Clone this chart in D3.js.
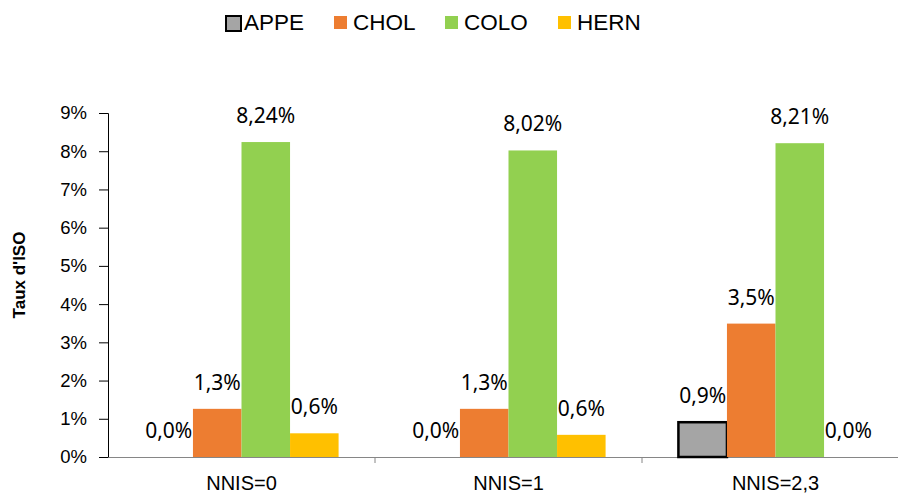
<!DOCTYPE html>
<html>
<head>
<meta charset="utf-8">
<script src="https://cdn.jsdelivr.net/npm/d3@7"></script>
<style>
  body { margin: 0; background: #fff; }
  svg { display: block; font-family: "Liberation Sans", Arial, sans-serif; }
</style>
</head>
<body>
<div id="chart"></div>
<script>
// data (values in %)
var categories = ["NNIS=0", "NNIS=1", "NNIS=2,3"];
var series = ["APPE", "CHOL", "COLO", "HERN"];
var appe = [0.0, 0.0, 0.91];
var chol = [1.26, 1.26, 3.49];
var colo = [8.24, 8.02, 8.21];
var hern = [0.62, 0.58, 0.0];
var labels = [
  ["0,0%", "0,0%", "0,9%"],
  ["1,3%", "1,3%", "3,5%"],
  ["8,24%", "8,02%", "8,21%"],
  ["0,6%", "0,6%", "0,0%"]
];
var yTicks = [0, 1, 2, 3, 4, 5, 6, 7, 8, 9];
var colors = ["#a5a5a5", "#ed7d31", "#92d050", "#ffc000"];

var width = 898, height = 498;
var plotLeft = 108, plotTop = 113, plotBottom = 457, plotRight = 909;

var values = [appe, chol, colo, hern];

var svg = d3.select("#chart").append("svg")
  .attr("width", width)
  .attr("height", height);

var x0 = d3.scaleBand().domain(categories).range([plotLeft, plotRight]).paddingInner(0).paddingOuter(0);
var x1 = d3.scaleBand().domain(series).range([0, x0.bandwidth()]).paddingOuter(0.75).paddingInner(0);
var y = d3.scaleLinear().domain([0, 9]).range([plotBottom, plotTop]);

function cells(s, si){
  return categories.map(function(c, ci){
    return {s: s, si: si, c: c, v: values[si][ci], lab: labels[si][ci]};
  });
}

// y axis
var yAxis = d3.axisLeft(y).tickValues(yTicks).tickSize(9).tickFormat(function(d){ return d + "%"; });
var gy = svg.append("g").attr("transform", "translate(" + plotLeft + ",0)").call(yAxis);
gy.select(".domain").attr("stroke", "#000");
gy.selectAll(".tick line").attr("stroke", "#000");
gy.selectAll(".tick text")
  .attr("x", -21)
  .attr("fill", "#000")
  .style("font-size", "18.5px")
  .style("font-family", "'Liberation Sans', Arial, sans-serif");

// x axis
var xAxis = d3.axisBottom(x0).tickSize(0).tickSizeOuter(0);
var gx = svg.append("g").attr("transform", "translate(0," + plotBottom + ")").call(xAxis);
gx.select(".domain").attr("stroke", "#868686");
gx.selectAll(".tick text")
  .attr("y", 19)
  .attr("fill", "#000")
  .style("font-size", "20px")
  .style("font-family", "'Liberation Sans', Arial, sans-serif");

// category separators
svg.append("g").selectAll("line")
  .data(categories.slice(1))
  .enter().append("line")
  .attr("x1", function(d){ return x0(d); })
  .attr("x2", function(d){ return x0(d); })
  .attr("y1", plotBottom)
  .attr("y2", plotBottom + 6)
  .attr("stroke", "#868686");

// bars
var groups = svg.append("g").selectAll("g")
  .data(series)
  .enter().append("g");

groups.selectAll("rect")
  .data(function(s, si){ return cells(s, si).filter(function(d){ return d.v > 0; }); })
  .enter().append("rect")
  .attr("x", function(d){ return x0(d.c) + x1(d.s); })
  .attr("width", x1.bandwidth())
  .attr("y", function(d){ return y(d.v); })
  .attr("height", function(d){ return plotBottom - y(d.v); })
  .attr("fill", function(d){ return colors[d.si]; })
  .attr("stroke", function(d){ return d.si === 0 ? "#000" : "none"; })
  .attr("stroke-width", 2.5);

// data labels
groups.selectAll("text")
  .data(cells)
  .enter().append("text")
  .attr("x", function(d){ return x0(d.c) + x1(d.s) + x1.bandwidth() / 2; })
  .attr("y", function(d){ return y(d.v) - 19; })
  .attr("text-anchor", "middle")
  .style("font-size", "21px")
  .style("font-family", "'Noto Sans', 'Open Sans', sans-serif")
  .attr("fill", "#000")
  .text(function(d){ return d.lab; });

// y title
svg.append("text")
  .attr("transform", "translate(25,275) rotate(-90)")
  .attr("text-anchor", "middle")
  .style("font-size", "17px")
  .style("font-weight", "bold")
  .text("Taux d'ISO");

// legend
var legendX = [225, 334, 445, 558];
var leg = svg.append("g").selectAll("g")
  .data(series)
  .enter().append("g")
  .attr("transform", function(d, i){ return "translate(" + legendX[i] + ",15)"; });
leg.append("rect")
  .attr("width", function(d, i){ return i === 0 ? 15 : 13; })
  .attr("height", function(d, i){ return i === 0 ? 15 : 13; })
  .attr("x", function(d, i){ return i === 0 ? 1 : 0; })
  .attr("y", 1)
  .attr("fill", function(d, i){ return colors[i]; })
  .attr("stroke", function(d, i){ return i === 0 ? "#000" : "none"; })
  .attr("stroke-width", 2);
leg.append("text")
  .attr("x", 19)
  .attr("y", 15)
  .style("font-size", "22.5px")
  .text(function(d){ return d; });
</script>
</body>
</html>
